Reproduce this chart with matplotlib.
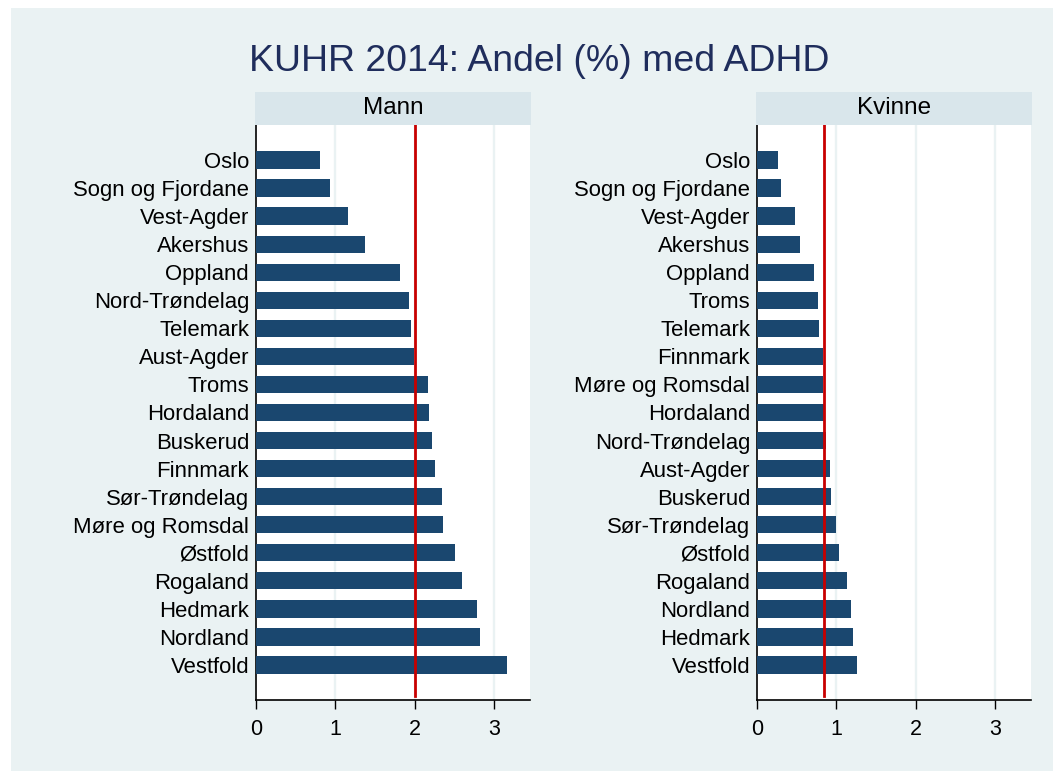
import matplotlib.pyplot as plt
from matplotlib.patches import Rectangle

plt.rcParams['font.family'] = ['Liberation Sans', 'DejaVu Sans']

# data, top to bottom as in the chart
mann_fylker = ['Oslo', 'Sogn og Fjordane', 'Vest-Agder', 'Akershus', 'Oppland',
               'Nord-Trøndelag', 'Telemark', 'Aust-Agder', 'Troms', 'Hordaland',
               'Buskerud', 'Finnmark', 'Sør-Trøndelag', 'Møre og Romsdal',
               'Østfold', 'Rogaland', 'Hedmark', 'Nordland', 'Vestfold']
mann_andel = [0.81, 0.93, 1.16, 1.37, 1.82, 1.93, 1.95, 1.99, 2.17, 2.18,
              2.22, 2.26, 2.35, 2.36, 2.51, 2.60, 2.79, 2.82, 3.17]
mann_snitt = 2.01

kvinne_fylker = ['Oslo', 'Sogn og Fjordane', 'Vest-Agder', 'Akershus', 'Oppland',
                 'Troms', 'Telemark', 'Finnmark', 'Møre og Romsdal', 'Hordaland',
                 'Nord-Trøndelag', 'Aust-Agder', 'Buskerud', 'Sør-Trøndelag',
                 'Østfold', 'Rogaland', 'Nordland', 'Hedmark', 'Vestfold']
kvinne_andel = [0.27, 0.30, 0.48, 0.54, 0.72, 0.77, 0.78, 0.83, 0.83, 0.84,
                0.87, 0.92, 0.93, 1.00, 1.04, 1.13, 1.18, 1.21, 1.26]
kvinne_snitt = 0.85

x_ticks = [0, 1, 2, 3]

# colours (Stata s2color look)
BG = '#eaf2f3'
STRIP = '#d9e6eb'
NAVY = '#1a476f'
TITLE = '#1f2d5c'
RED = '#c80000'

W, H = 1053, 771


def px_rect(x0, y0, x1, y1):
    # pixel box (from top left) -> figure fraction
    return [x0 / W, 1 - y1 / H, (x1 - x0) / W, (y1 - y0) / H]


fig = plt.figure(figsize=(W / 100, H / 100), dpi=100)
fig.patch.set_facecolor('white')
fig.patches.append(Rectangle((11 / W, 0), 1 - 11 / W, 1 - 8 / H,
                             transform=fig.transFigure, facecolor=BG,
                             edgecolor='none', zorder=-10))

fig.text(539 / W, 1 - 71 / H, 'KUHR 2014: Andel (%) med ADHD',
         ha='center', va='baseline', fontsize=26.9, color=TITLE)


def panel(x0, x1, navn, fylker, andel, snitt):
    ax = fig.add_axes(px_rect(x0, 125, x1, 700))
    ax.set_facecolor('white')
    pos = list(range(len(fylker)))
    ax.barh(pos, andel, height=0.62, color=NAVY, zorder=3)
    # average line, stops a little short of the x axis
    ax.axvline(snitt, ymin=0.007, ymax=1.005, color=RED, lw=2,
               zorder=4, clip_on=False)
    ax.set_ylim(len(fylker) - 1 + 1.25, -1.25)
    ax.set_xlim(0, 3.455)
    ax.set_yticks(pos)
    ax.set_yticklabels(fylker, fontsize=15.9)
    ax.set_xticks(x_ticks)
    ax.set_xticklabels([str(t) for t in x_ticks], fontsize=15.5)
    ax.tick_params(axis='y', length=0, pad=5)
    ax.tick_params(axis='x', length=6.5, width=1, pad=7)
    for g in x_ticks[1:]:
        ax.axvline(g, color=BG, lw=1.7, zorder=1)
    ax.spines['top'].set_visible(False)
    ax.spines['right'].set_visible(False)
    ax.spines['left'].set_linewidth(1.2)
    ax.spines['bottom'].set_linewidth(1.2)

    # strip on top with panel name
    sx = fig.add_axes(px_rect(x0 - 1, 92, x1 + 0.7, 125))
    sx.set_facecolor(STRIP)
    sx.set_xticks([])
    sx.set_yticks([])
    for s in sx.spines.values():
        s.set_visible(False)
    sx.text(0.5, 0.5, navn, ha='center', va='center', fontsize=17.5,
            transform=sx.transAxes)
    return ax


panel(256, 530, 'Mann', mann_fylker, mann_andel, mann_snitt)
panel(757, 1031, 'Kvinne', kvinne_fylker, kvinne_andel, kvinne_snitt)

fig.savefig('out.png', dpi=100)
